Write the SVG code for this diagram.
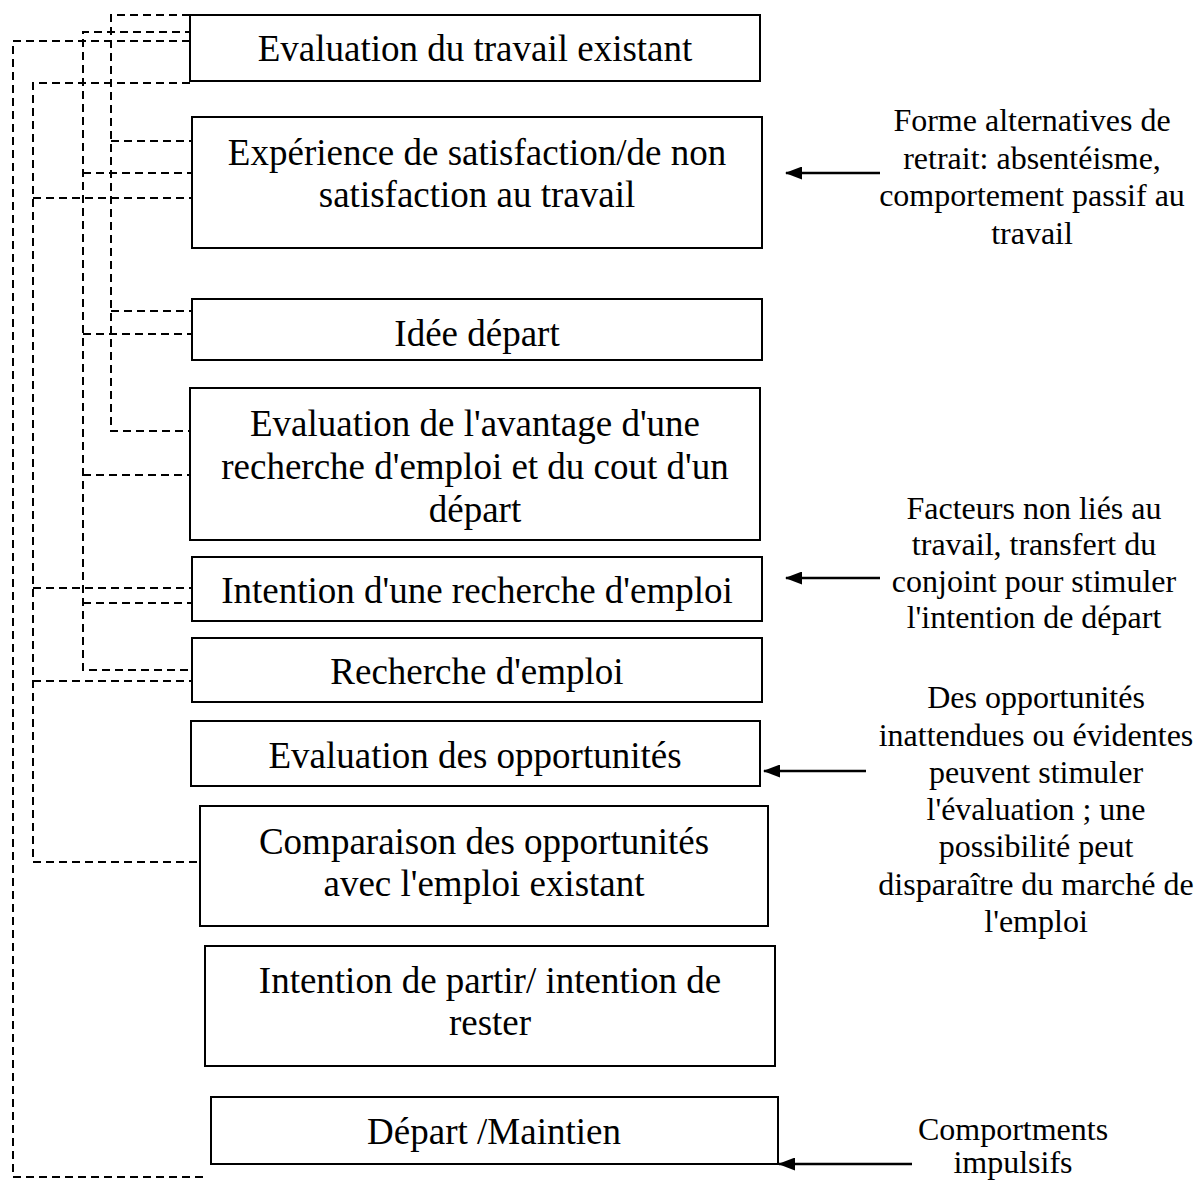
<svg xmlns="http://www.w3.org/2000/svg" width="1199" height="1180" viewBox="0 0 1199 1180">
  <style>
    .box { fill: #fff; stroke: #000; stroke-width: 2; }
    .lbl { font-family: "Liberation Serif", "Times New Roman", serif; font-size: 37px; fill: #000; text-anchor: middle; }
    .note { font-family: "Liberation Serif", "Times New Roman", serif; font-size: 32px; fill: #000; text-anchor: middle; }
    .dash { fill: none; stroke: #000; stroke-width: 2; stroke-dasharray: 8 5; }
    .arrow { fill: none; stroke: #000; stroke-width: 2.5; marker-end: url(#head); }
  </style>
  <defs>
    <marker id="head" markerWidth="17" markerHeight="13" refX="16" refY="6.5" orient="auto" markerUnits="userSpaceOnUse">
      <path d="M0,0 L17,6.5 L0,13 Z" fill="#000"/>
    </marker>
  </defs>
  <rect width="1199" height="1180" fill="#fff"/>

  <!-- dashed feedback loops on the left -->
  <g id="connectors">
    <!-- trunk x=111 -->
    <path class="dash" d="M190,15 H111 V431 H190"/>
    <path class="dash" d="M111,141 H192"/>
    <path class="dash" d="M111,311 H192"/>
    <!-- trunk x=83 -->
    <path class="dash" d="M193,32 H83 V670 H192"/>
    <path class="dash" d="M83,173 H192"/>
    <path class="dash" d="M83,334 H192"/>
    <path class="dash" d="M83,475 H190"/>
    <path class="dash" d="M83,603 H192"/>
    <!-- trunk x=33 -->
    <path class="dash" d="M190,83 H33 V862 H200"/>
    <path class="dash" d="M33,198 H192"/>
    <path class="dash" d="M33,588 H192"/>
    <path class="dash" d="M33,681 H192"/>
    <!-- trunk x=13 -->
    <path class="dash" d="M190,41 H13 V1177 H208"/>

    <!-- external influences -->
    <path class="arrow" d="M880,173 H786"/>
    <path class="arrow" d="M880,578 H786"/>
    <path class="arrow" d="M866,771 H764"/>
    <path class="arrow" d="M912,1164 H779"/>
  </g>

  <g id="n1">
    <rect class="box" x="190" y="15" width="570" height="66"/>
    <text class="lbl" x="475" y="61">Evaluation du travail existant</text>
  </g>
  <g id="n2">
    <rect class="box" x="192" y="117" width="570" height="131"/>
    <text class="lbl" x="477" y="165">Expérience de satisfaction/de non</text>
    <text class="lbl" x="477" y="207">satisfaction au travail</text>
  </g>
  <g id="n3">
    <rect class="box" x="192" y="299" width="570" height="61"/>
    <text class="lbl" x="477" y="346">Idée départ</text>
  </g>
  <g id="n4">
    <rect class="box" x="190" y="388" width="570" height="152"/>
    <text class="lbl" x="475" y="436">Evaluation de l'avantage d'une</text>
    <text class="lbl" x="475" y="479">recherche d'emploi et du cout d'un</text>
    <text class="lbl" x="475" y="522">départ</text>
  </g>
  <g id="n5">
    <rect class="box" x="192" y="557" width="570" height="64"/>
    <text class="lbl" x="477" y="603">Intention d'une recherche d'emploi</text>
  </g>
  <g id="n6">
    <rect class="box" x="192" y="638" width="570" height="64"/>
    <text class="lbl" x="477" y="684">Recherche d'emploi</text>
  </g>
  <g id="n7">
    <rect class="box" x="191" y="721" width="569" height="65"/>
    <text class="lbl" x="475" y="768">Evaluation des opportunités</text>
  </g>
  <g id="n8">
    <rect class="box" x="200" y="806" width="568" height="120"/>
    <text class="lbl" x="484" y="854">Comparaison des opportunités</text>
    <text class="lbl" x="484" y="896">avec l'emploi existant</text>
  </g>
  <g id="n9">
    <rect class="box" x="205" y="946" width="570" height="120"/>
    <text class="lbl" x="490" y="993">Intention de partir/ intention de</text>
    <text class="lbl" x="490" y="1035">rester</text>
  </g>
  <g id="n10">
    <rect class="box" x="211" y="1097" width="567" height="67"/>
    <text class="lbl" x="494" y="1144">Départ /Maintien</text>
  </g>

  <g id="note1">
    <text class="note" x="1032" y="131">Forme alternatives de</text>
    <text class="note" x="1032" y="169">retrait: absentéisme,</text>
    <text class="note" x="1032" y="206">comportement passif au</text>
    <text class="note" x="1032" y="244">travail</text>
  </g>
  <g id="note2">
    <text class="note" x="1034" y="519">Facteurs non liés au</text>
    <text class="note" x="1034" y="555">travail, transfert du</text>
    <text class="note" x="1034" y="592">conjoint pour stimuler</text>
    <text class="note" x="1034" y="628">l'intention de départ</text>
  </g>
  <g id="note3">
    <text class="note" x="1036" y="708">Des opportunités</text>
    <text class="note" x="1036" y="746">inattendues ou évidentes</text>
    <text class="note" x="1036" y="783">peuvent stimuler</text>
    <text class="note" x="1036" y="820">l'évaluation ; une</text>
    <text class="note" x="1036" y="857">possibilité peut</text>
    <text class="note" x="1036" y="895">disparaître du marché de</text>
    <text class="note" x="1036" y="932">l'emploi</text>
  </g>
  <g id="note4">
    <text class="note" x="1013" y="1140">Comportments</text>
    <text class="note" x="1013" y="1173">impulsifs</text>
  </g>
</svg>
